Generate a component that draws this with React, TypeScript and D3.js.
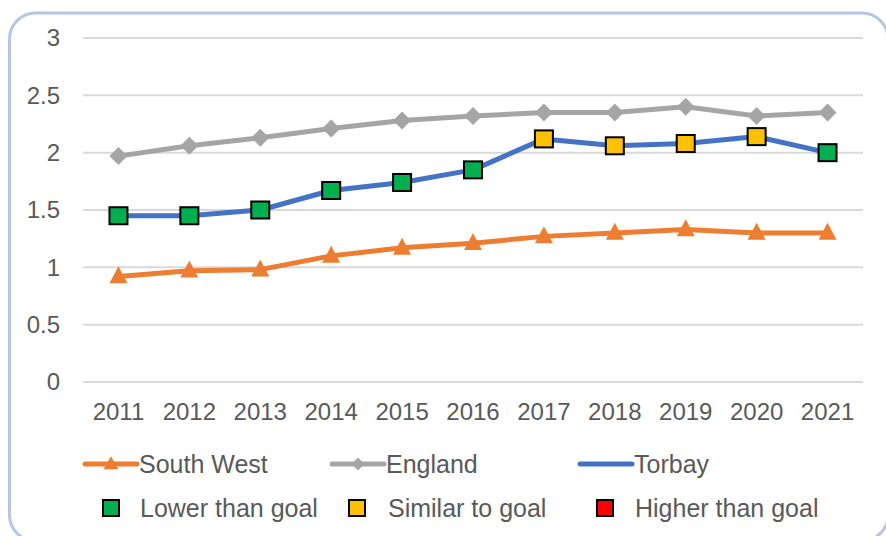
import * as d3 from 'd3';
import React from 'react';

const years = ['2011', '2012', '2013', '2014', '2015', '2016', '2017', '2018', '2019', '2020', '2021'];
const southWest = [0.92, 0.97, 0.98, 1.1, 1.17, 1.21, 1.27, 1.3, 1.33, 1.3, 1.3];
const england = [1.97, 2.06, 2.13, 2.21, 2.28, 2.32, 2.35, 2.35, 2.4, 2.32, 2.35];
const torbay = [1.45, 1.45, 1.5, 1.67, 1.74, 1.85, 2.12, 2.06, 2.08, 2.14, 2.0];
const torbayStatus = ['lower', 'lower', 'lower', 'lower', 'lower', 'lower', 'similar', 'similar', 'similar', 'similar', 'lower'];
const yTicks = [0, 0.5, 1, 1.5, 2, 2.5, 3];

const statusColor: any = { lower: '#00b050', similar: '#ffc000', higher: '#ff0000' };
const font = '"Liberation Sans", Arial, sans-serif';
const textColor = '#595959';

const Label = ({ x, y, anchor = 'start', size = 24, children }: any) => (
    <text x={x} y={y} dy="0.35em" textAnchor={anchor}
        fontFamily={font} fontSize={size} fill={textColor}>
        {children}
    </text>
);

const triPath = (w: number, h: number) => `M0,${-h * 0.6}L${w / 2},${h * 0.4}L${-w / 2},${h * 0.4}Z`;
const diamondPath = (r: number) => `M0,${-r}L${r},0L0,${r}L${-r},0Z`;

const App = () => {
    const width = 886;
    const height = 536;
    const plot = { left: 83, right: 863, top: 38, bottom: 382 };

    const x = d3.scaleBand().domain(years).range([plot.left, plot.right]);
    const y = d3.scaleLinear().domain([0, 3]).range([plot.bottom, plot.top]);
    const cx = (d: string) => (x(d) as number) + x.bandwidth() / 2;

    const line = d3.line<number>()
        .x((_d, i) => cx(years[i]))
        .y((d) => y(d));

    const legendRow1 = [
        { label: 'South West', color: '#ed7d31', x0: 85, marker: triPath(15, 13) },
        { label: 'England', color: '#a5a5a5', x0: 332, marker: diamondPath(6.5) },
        { label: 'Torbay', color: '#4472c4', x0: 580, marker: null },
    ];
    const legendRow2 = [
        { label: 'Lower than goal', key: 'lower', x0: 111, tx: 140 },
        { label: 'Similar to goal', key: 'similar', x0: 357, tx: 388 },
        { label: 'Higher than goal', key: 'higher', x0: 605, tx: 635 },
    ];

    return (
        <svg width={width} height={height} style={{ position: 'absolute', left: 0, top: 0 }}>
            <rect x={0} y={0} width={width} height={height} fill="#ffffff" />
            <rect x={9.5} y={13} width={878.5} height={528} rx={26} ry={26}
                fill="#ffffff" stroke="#b4c7e7" strokeWidth={3} />

            {/* gridlines + y labels */}
            {yTicks.map((t) => (
                <g key={t}>
                    <line x1={plot.left} x2={plot.right} y1={y(t)} y2={y(t)} stroke="#d9d9d9" strokeWidth={2} />
                    <Label x={60} y={y(t)} anchor="end">{t}</Label>
                </g>
            ))}

            {/* x labels */}
            {years.map((yr) => (
                <Label key={yr} x={cx(yr)} y={412} anchor="middle">{yr}</Label>
            ))}

            {/* England */}
            <path d={line(england) as string} fill="none" stroke="#a5a5a5" strokeWidth={5} strokeLinejoin="round" />
            {england.map((v, i) => (
                <path key={i} d={diamondPath(9)} transform={`translate(${cx(years[i])},${y(v)})`} fill="#a5a5a5" />
            ))}

            {/* South West */}
            <path d={line(southWest) as string} fill="none" stroke="#ed7d31" strokeWidth={5} strokeLinejoin="round" />
            {southWest.map((v, i) => (
                <path key={i} d={triPath(18, 17)} transform={`translate(${cx(years[i])},${y(v)})`} fill="#ed7d31" />
            ))}

            {/* Torbay */}
            <path d={line(torbay) as string} fill="none" stroke="#4472c4" strokeWidth={5} strokeLinejoin="round" />
            {torbay.map((v, i) => (
                <rect key={i} x={cx(years[i]) - 9} y={y(v) - 8.5} width={18} height={17}
                    fill={statusColor[torbayStatus[i]]} stroke="#000" strokeWidth={2} />
            ))}

            {/* legend row 1 */}
            {legendRow1.map((l) => (
                <g key={l.label}>
                    <line x1={l.x0} x2={l.x0 + 52} y1={464} y2={464} stroke={l.color} strokeWidth={5} strokeLinecap="round" />
                    {l.marker && <path d={l.marker} transform={`translate(${l.x0 + 26},464)`} fill={l.color} />}
                    <Label x={l.x0 + 54} y={464} size={25}>{l.label}</Label>
                </g>
            ))}

            {/* legend row 2 */}
            {legendRow2.map((l) => (
                <g key={l.label}>
                    <rect x={l.x0 - 8} y={508 - 8} width={16} height={16} fill={statusColor[l.key]} stroke="#000" strokeWidth={2} />
                    <Label x={l.tx} y={508} size={25}>{l.label}</Label>
                </g>
            ))}
        </svg>
    );
};

export default App;
